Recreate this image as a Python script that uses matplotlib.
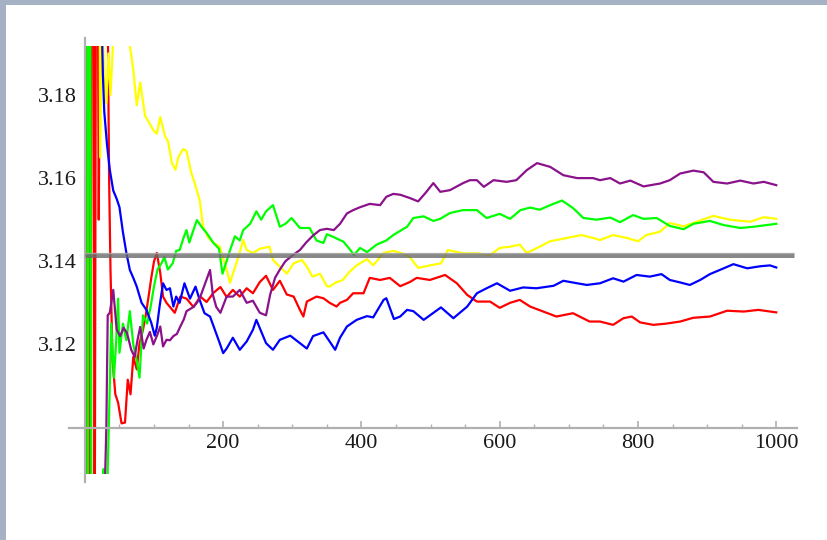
import numpy as np
import matplotlib
matplotlib.use("Agg")
import matplotlib.pyplot as plt
from matplotlib.patches import Rectangle
from matplotlib.ticker import FixedLocator

# running estimates of pi (n = number of samples)
red_n = [1, 3, 5, 8, 11, 14, 17, 20, 24, 28, 32, 35, 37, 38, 40, 44, 48, 53, 58, 62, 66, 70, 75,
         79, 84, 88, 92, 96, 100, 104, 109, 113, 118, 123, 130, 138, 147, 157, 167, 176, 186, 196,
         205, 214, 224, 234, 243, 253, 262, 272, 282, 292, 302, 311, 316, 321, 335, 345, 354, 364,
         369, 379, 388, 403, 412, 427, 441, 456, 470, 480, 499, 521, 538, 553, 567, 586, 600, 615,
         629, 644, 663, 682, 706, 730, 745, 764, 779, 791, 803, 822, 841, 861, 880, 904, 929, 953,
         974, 1000]
red_pi = [4.0, 2.8, 3.6, 3.0, 3.4, 3.05, 3.3, 3.15, 3.25, 3.2, 3.22, 3.16, 3.138, 3.131, 3.116,
          3.108, 3.106, 3.101, 3.1012, 3.1115, 3.108, 3.117, 3.114, 3.1203, 3.1235, 3.127, 3.1314,
          3.136, 3.140, 3.142, 3.1372, 3.1315, 3.130, 3.129, 3.1276, 3.1315, 3.131, 3.129, 3.1315,
          3.1302, 3.1324, 3.1338, 3.1314, 3.1331, 3.1315, 3.1335, 3.1323, 3.1350, 3.1365, 3.1331,
          3.1353, 3.132, 3.1315, 3.1283, 3.1267, 3.1303, 3.1315, 3.1311, 3.1300, 3.1291, 3.1300,
          3.1307, 3.1323, 3.1323, 3.1360, 3.1355, 3.1360, 3.1340, 3.1350, 3.1360, 3.1355, 3.1367,
          3.1347, 3.1319, 3.1303, 3.1303, 3.1288, 3.1300, 3.1307, 3.1291, 3.1279, 3.1267, 3.1275,
          3.1255, 3.1255, 3.1247, 3.1263, 3.1267, 3.1253, 3.1247, 3.1250, 3.1255, 3.1264, 3.1267,
          3.1281, 3.1279, 3.1283, 3.1277]

yellow_n = [1, 5, 10, 15, 20, 22, 25, 28, 31, 34, 37, 40, 43, 50, 58, 65, 70, 75, 80, 87, 94, 99,
            104, 109, 116, 120, 126, 131, 135, 142, 147, 154, 159, 166, 171, 178, 186, 195, 205,
            210, 214, 222, 229, 234, 243, 253, 267, 272, 282, 292, 302, 314, 321, 329, 340, 350,
            354, 362, 373, 383, 393, 408, 417, 432, 446, 461, 470, 482, 499, 515, 525, 547, 567,
            586, 600, 615, 629, 639, 654, 673, 697, 718, 735, 745, 764, 784, 800, 812, 832, 846,
            866, 885, 909, 933, 962, 982, 1000]
yellow_pi = [4.0, 3.3, 3.5, 3.25, 3.3, 3.165, 3.2, 3.185, 3.178, 3.19, 3.18, 3.19, 3.20, 3.22,
             3.21, 3.192, 3.186, 3.1775, 3.183, 3.175, 3.173, 3.1715, 3.1707, 3.1747, 3.170, 3.169,
             3.1635, 3.162, 3.165, 3.167, 3.1665, 3.1612, 3.1587, 3.1547, 3.1483, 3.1458, 3.1444,
             3.1435, 3.1379, 3.1348, 3.137, 3.141, 3.1451, 3.1427, 3.142, 3.143, 3.1435, 3.1403,
             3.1387, 3.137, 3.1395, 3.1403, 3.1387, 3.1363, 3.137, 3.134, 3.1339, 3.1348, 3.1355,
             3.1375, 3.139, 3.1405, 3.139, 3.142, 3.1425, 3.1418, 3.141, 3.1384, 3.1390, 3.1395,
             3.1427, 3.1419, 3.1419, 3.1415, 3.1432, 3.1435, 3.1440, 3.1420, 3.1432, 3.1448,
             3.1456, 3.1463, 3.1456, 3.1451, 3.1463, 3.1456, 3.1448, 3.1463, 3.1471, 3.1492,
             3.1484, 3.1495, 3.1509, 3.1500, 3.1495, 3.1506, 3.1502]

blue_n = [1, 5, 10, 15, 20, 24, 26, 28, 32, 36, 41, 46, 50, 55, 60, 65, 70, 75, 82, 89, 96, 101,
          104, 108, 113, 118, 123, 128, 132, 137, 144, 152, 160, 166, 173, 181, 188, 195, 200, 205,
          214, 224, 234, 243, 248, 255, 262, 272, 282, 297, 311, 321, 330, 345, 354, 362, 369, 379,
          393, 408, 417, 432, 436, 447, 456, 466, 475, 490, 515, 533, 553, 567, 581, 596, 615, 634,
          653, 678, 692, 712, 726, 745, 764, 779, 798, 817, 834, 846, 861, 875, 890, 904, 924, 938,
          958, 977, 991, 1000]
blue_pi = [4.0, 3.2, 3.6, 3.4, 3.3, 3.2, 3.185, 3.176, 3.168, 3.162, 3.157, 3.155, 3.153, 3.147,
           3.142, 3.1379, 3.136, 3.1339, 3.130, 3.1283, 3.1252, 3.1221, 3.124, 3.1291, 3.1347,
           3.1331, 3.1335, 3.1291, 3.1315, 3.130, 3.1347, 3.131, 3.1339, 3.1307, 3.1275, 3.1267,
           3.1235, 3.1203, 3.1179, 3.119, 3.1216, 3.1187, 3.1207, 3.1235, 3.1259, 3.1231, 3.1203,
           3.1187, 3.1211, 3.1221, 3.1203, 3.1190, 3.1220, 3.1229, 3.1207, 3.1187, 3.1216, 3.1243,
           3.1259, 3.1268, 3.1265, 3.1307, 3.1311, 3.1261, 3.1267, 3.1283, 3.128, 3.1259, 3.1289,
           3.1263, 3.1291, 3.1323, 3.1335, 3.1347, 3.1329, 3.1337, 3.1335, 3.1341, 3.1353, 3.1347,
           3.1343, 3.1347, 3.1359, 3.1351, 3.1367, 3.1363, 3.1369, 3.1355, 3.1349, 3.1343, 3.1355,
           3.1369, 3.1383, 3.1393, 3.1383, 3.1388, 3.139, 3.1385]

green_n = [1, 4, 6, 9, 12, 16, 20, 24, 27, 30, 33, 36, 38, 42, 45, 48, 50, 55, 60, 65, 70, 75, 79,
           84, 90, 95, 100, 105, 111, 115, 120, 127, 132, 137, 143, 147, 151, 156, 162, 170, 176,
           186, 194, 199, 205, 210, 217, 224, 229, 239, 248, 255, 262, 272, 282, 290, 299, 311, 325,
           335, 345, 350, 360, 374, 384, 389, 398, 408, 422, 436, 446, 466, 475, 490, 504, 514, 528,
           547, 567, 581, 600, 615, 630, 644, 658, 673, 690, 706, 721, 740, 760, 774, 793, 808, 827,
           846, 866, 880, 904, 924, 948, 967, 1000]
green_pi = [4.0, 3.0, 3.33, 3.11, 2.9, 3.0, 3.07, 2.95, 3.09, 3.0, 3.09, 3.11, 3.125, 3.112, 3.12,
            3.131, 3.118, 3.125, 3.121, 3.128, 3.12, 3.116, 3.112, 3.127, 3.125, 3.129, 3.134,
            3.138, 3.1396, 3.141, 3.138, 3.1395, 3.1425, 3.1427, 3.1458, 3.1475, 3.1445, 3.147,
            3.1499, 3.148, 3.1468, 3.1444, 3.143, 3.137, 3.140, 3.1427, 3.146, 3.145, 3.1475,
            3.149, 3.152, 3.150, 3.152, 3.1535, 3.1483, 3.149, 3.1504, 3.148, 3.148, 3.145, 3.1444,
            3.1465, 3.1458, 3.1447, 3.1427, 3.1415, 3.1432, 3.1422, 3.144, 3.145, 3.1463, 3.1483,
            3.1504, 3.1508, 3.1497, 3.1502, 3.1516, 3.1523, 3.1523, 3.1504, 3.1514, 3.1502, 3.1523,
            3.1529, 3.1524, 3.1535, 3.1546, 3.1528, 3.1504, 3.1500, 3.1505, 3.1494, 3.1511, 3.1502,
            3.1504, 3.1485, 3.1477, 3.1490, 3.1497, 3.1487, 3.1480, 3.1483, 3.1490]

purple_n = [1, 8, 15, 22, 28, 31, 33, 36, 41, 46, 51, 56, 61, 67, 72, 76, 80, 85, 89, 94, 99, 104,
            109, 113, 118, 123, 128, 133, 138, 143, 147, 152, 157, 162, 167, 174, 181, 185, 190,
            196, 205, 214, 224, 234, 243, 253, 262, 268, 275, 282, 290, 301, 311, 320, 330, 340,
            350, 360, 369, 379, 388, 398, 412, 427, 436, 446, 456, 470, 482, 493, 504, 514, 528,
            547, 557, 567, 577, 591, 610, 624, 639, 654, 673, 692, 712, 735, 745, 760, 774, 789,
            808, 832, 846, 861, 880, 895, 909, 929, 948, 967, 982, 1000]
purple_pi = [2.9, 3.0, 3.04, 3.07, 3.08, 3.10, 3.127, 3.1276, 3.1331, 3.1235, 3.122, 3.124, 3.1227,
             3.1187, 3.117, 3.121, 3.1242, 3.119, 3.1211, 3.123, 3.120, 3.122, 3.1243, 3.1195,
             3.1211, 3.121, 3.122, 3.1225, 3.1243, 3.126, 3.128, 3.1285, 3.129, 3.130, 3.1315,
             3.1347, 3.1379, 3.132, 3.129, 3.1276, 3.1315, 3.1315, 3.1331, 3.130, 3.1305, 3.1276,
             3.127, 3.132, 3.136, 3.138, 3.140, 3.1415, 3.1427, 3.1445, 3.1462, 3.1475, 3.1478,
             3.1475, 3.1490, 3.1515, 3.1523, 3.1530, 3.1538, 3.1535, 3.1555, 3.1562, 3.1560,
             3.1552, 3.1544, 3.1565, 3.1588, 3.1567, 3.1571, 3.1588, 3.1595, 3.1595, 3.1579,
             3.1595, 3.1591, 3.1595, 3.1619, 3.1636, 3.1627, 3.1607, 3.1600, 3.1600, 3.1595,
             3.1600, 3.1587, 3.1594, 3.1580, 3.1587, 3.1595, 3.1611, 3.1618, 3.1614, 3.1591,
             3.1587, 3.1594, 3.1587, 3.1591, 3.1583]

series = [(red_n, red_pi, "#ff0000"), (yellow_n, yellow_pi, "#ffff00"),
          (green_n, green_pi, "#00ff00"), (blue_n, blue_pi, "#0000ff"),
          (purple_n, purple_pi, "#8a128a")]

y_labels = ["3.12", "3.14", "3.16", "3.18"]
x_labels = ["200", "400", "600", "800", "1000"]

fig = plt.figure(figsize=(8.28, 5.4), dpi=100)
fig.patch.set_facecolor("#a4b2c3")
# white page inside the window frame
fig.patches.append(Rectangle((6 / 828, 0), 1, 1 - 5 / 540, transform=fig.transFigure,
                             facecolor="white", edgecolor="none", zorder=-10))

ax = fig.add_axes([69 / 828, 1 - 482 / 540, 728 / 828, 444 / 540])
ax.set_zorder(5)
ax.set_facecolor("none")
ax.set_xlim(-23, 1030)
ax.set_ylim(3.0869, 3.1937)

clip = Rectangle((-5, 3.0889), 1015, 0.1029, transform=ax.transData)
for n, vals, col in series:
    line, = ax.plot(n, vals, color=col, lw=1.6, solid_joinstyle="round")
    line.set_clip_path(clip)

# pi reference line, two-tone like the original
ax.hlines(np.pi, 0, 1025, color="#6a6a6a", lw=3.6, alpha=0.8, zorder=5)
ax.hlines(np.pi + 0.00035, 0, 1025, color="#b8b8b8", lw=1.0, alpha=0.7, zorder=6)

for s in ["top", "right"]:
    ax.spines[s].set_visible(False)
ax.spines["left"].set_position(("data", 0))
ax.spines["bottom"].set_position(("data", 3.1))
for s in ["left", "bottom"]:
    ax.spines[s].set_color("#b0b0b0")
    ax.spines[s].set_linewidth(1.6)

ax.xaxis.set_major_locator(FixedLocator([200, 400, 600, 800, 1000]))
ax.set_xticklabels(x_labels)
ax.xaxis.set_minor_locator(FixedLocator([v for v in range(50, 1001, 50) if v % 200]))
ax.yaxis.set_major_locator(FixedLocator([3.12, 3.14, 3.16, 3.18]))
ax.set_yticklabels(y_labels)
ax.yaxis.set_minor_locator(FixedLocator([round(3.09 + 0.005 * i, 3) for i in range(21)]))

ax.tick_params(axis="x", which="major", direction="in", length=5, width=1.2, color="#b0b0b0",
               pad=5, labelsize=16, labelcolor="#1a1a1a")
ax.tick_params(axis="x", which="minor", direction="in", length=3.2, width=1.0, color="#b0b0b0")
ax.tick_params(axis="y", which="major", direction="in", length=3.5, width=1.0, color="#b0b0b0",
               pad=6, labelsize=16, labelcolor="#1a1a1a")
ax.tick_params(axis="y", which="minor", direction="in", length=2.2, width=1.0, color="#b0b0b0")
for lab in ax.get_xticklabels() + ax.get_yticklabels():
    lab.set_family("Liberation Serif")

plt.savefig("out.png", dpi=100, facecolor=fig.get_facecolor())
